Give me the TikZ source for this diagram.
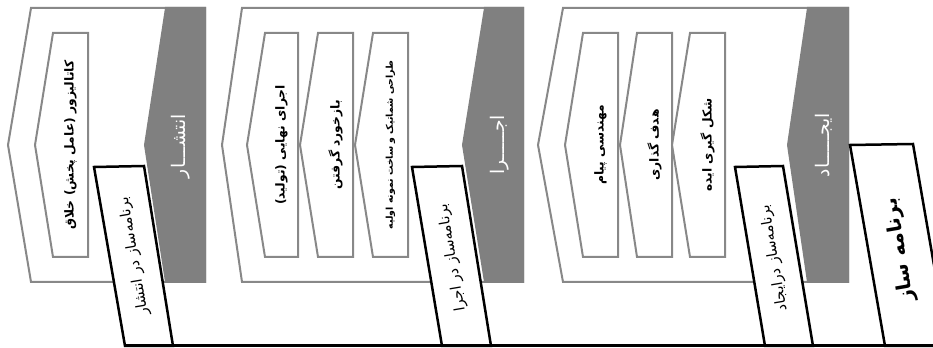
\documentclass[tikz,border=0pt]{standalone}
\usepackage{fontspec}
\newfontfamily\farsi[Script=Arabic]{DejaVu Sans}
\TeXXeTstate=1
\usetikzlibrary{positioning}
\definecolor{grisfondo}{RGB}{128,128,128}
\definecolor{grisborde}{RGB}{136,136,136}

\begin{document}
\begin{tikzpicture}[
        x=0.3mm, y=-0.3mm,
        panel/.style={draw=grisborde, line width=0.6mm, fill=white},
        head/.style={draw=grisfondo, fill=grisfondo, line width=0.6mm},
        card/.style={draw=grisborde, line width=0.6mm, fill=white},
        tag/.style={draw=black, line width=0.75mm, fill=white},
        cardtext/.style={rotate=90, inner sep=0pt, font=\farsi\bfseries\fontsize{10.5}{12}\selectfont},
        headtext/.style={rotate=90, inner sep=0pt, text=white, font=\farsi\fontsize{16}{18}\selectfont},
        tagtext/.style={rotate=99.6, inner sep=0pt, font=\farsi\fontsize{12.5}{14}\selectfont}
    ]
    \useasboundingbox (0,0) rectangle (933,348);

    % Bloque انتشار
    \draw[panel] (31,8) -- (205,8) -- (205,282) -- (31,282) -- (8,145) -- cycle;
    \draw[head] (166,8) -- (205,8) -- (205,282) -- (166,282) -- (145,145) -- cycle;
    \draw[card] (53,33) -- (88,33) -- (88,257) -- (53,257) -- (35,145) -- cycle;
    \node[cardtext] (k1) at (70.5,145) {\beginR کاتالیزور (عامل پخش) خلاق\endR};
    \node[headtext] (h1) at (181,146) {\beginR انتشـــار\endR};

    % Bloque اجرا
    \draw[panel] (242,8) -- (523,8) -- (523,282) -- (242,282) -- (222,145) -- cycle;
    \draw[head] (485,8) -- (523,8) -- (523,282) -- (485,282) -- (463,145) -- cycle;
    \draw[card] (265,33) -- (298,33) -- (298,257) -- (265,257) -- (247,145) -- cycle;
    \draw[card] (318,33) -- (353,33) -- (353,257) -- (318,257) -- (300,145) -- cycle;
    \draw[card] (373,33) -- (408,33) -- (408,257) -- (373,257) -- (355,145) -- cycle;
    \node[cardtext] (k2) at (281.5,145) {\beginR اجرای نهایی (تولید)\endR};
    \node[cardtext] (k3) at (335.5,145) {\beginR بازخورد گرفتن\endR};
    \node[cardtext, font=\farsi\bfseries\fontsize{8}{10}\selectfont] (k4) at (390.5,145) {\beginR طراحی شماتیک و ساخت نمونه اولیه\endR};
    \node[headtext] (h2) at (500,145) {\beginR اجـــــرا\endR};

    % Bloque ایجاد
    \draw[panel] (563,8) -- (848,8) -- (848,282) -- (563,282) -- (538,145) -- cycle;
    \draw[head] (808,8) -- (848,8) -- (848,282) -- (808,282) -- (788,145) -- cycle;
    \draw[card] (583,33) -- (618,33) -- (618,257) -- (583,257) -- (565,145) -- cycle;
    \draw[card] (637,33) -- (672,33) -- (672,257) -- (637,257) -- (620,145) -- cycle;
    \draw[card] (690,33) -- (725,33) -- (725,257) -- (690,257) -- (672,145) -- cycle;
    \node[cardtext] (k5) at (600.5,145) {\beginR مهندسی پیام\endR};
    \node[cardtext] (k6) at (654.5,145) {\beginR هدف گذاری\endR};
    \node[cardtext] (k7) at (707.5,145) {\beginR شکل گیری ایده\endR};
    \node[headtext] (h3) at (824,145) {\beginR ایجـــــاد\endR};

    % Etiquetas
    \coordinate (t1a) at (94,167);  \coordinate (t1b) at (144,166);
    \coordinate (t1c) at (173,346); \coordinate (t1d) at (125,346);
    \coordinate (t2a) at (412,167); \coordinate (t2b) at (462,166);
    \coordinate (t2c) at (491,346); \coordinate (t2d) at (442,346);
    \coordinate (t3a) at (735,167); \coordinate (t3b) at (783,166);
    \coordinate (t3c) at (813,346); \coordinate (t3d) at (765,346);
    \coordinate (t4a) at (850,145); \coordinate (t4b) at (913,144);
    \coordinate (t4c) at (948,346); \coordinate (t4d) at (885,346);
    \coordinate (fin) at (945,346);

    \draw[tag] (t1a) -- (t1b) -- (t1c) -- (t1d) -- cycle;
    \draw[tag] (t2a) -- (t2b) -- (t2c) -- (t2d) -- cycle;
    \draw[tag] (t3a) -- (t3b) -- (t3c) -- (t3d) -- cycle;
    \draw[tag] (t4a) -- (t4b) -- (t4c) -- (t4d) -- cycle;

    \node[tagtext] (e1) at (134,256) {\beginR برنامه^^^^200cساز در انتشار\endR};
    \node[tagtext] (e2) at (452,258) {\beginR برنامه^^^^200cساز در اجرا\endR};
    \node[tagtext] (e3) at (774,258) {\beginR برنامه^^^^200cساز درایجاد\endR};
    \node[tagtext, font=\farsi\bfseries\fontsize{17}{20}\selectfont] (e4) at (900,250) {\beginR برنامه ساز\endR};

    % Línea base
    \draw[line width=0.9mm] (t1d) -- (fin);

\end{tikzpicture}
\end{document}
